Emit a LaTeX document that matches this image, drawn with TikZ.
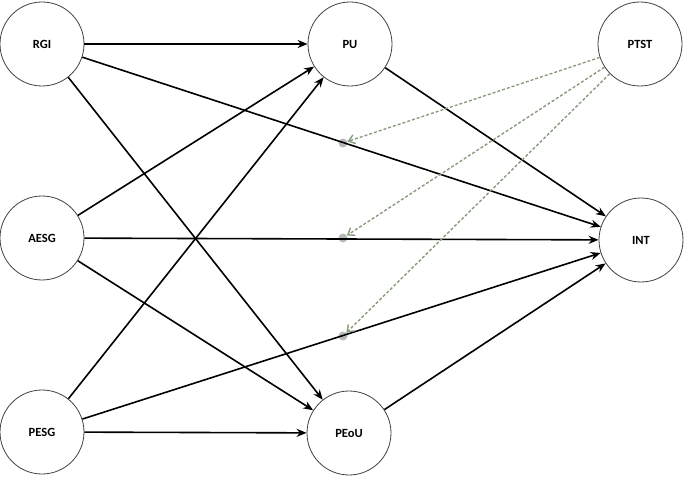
\documentclass[tikz,border=0pt]{standalone}
\usepackage{fontspec}
\setmainfont{Carlito}
\usetikzlibrary{arrows.meta}
\definecolor{dashcol}{RGB}{135,155,125}
\begin{document}
\begin{tikzpicture}[x=1pt,y=-1pt,
  n/.style={circle,draw=black!75,line width=0.8pt,minimum size=84pt,inner sep=0pt,font=\bfseries\fontsize{12.5}{14}\selectfont},
  a/.style={-{Stealth[length=10pt,width=8pt]},line width=1.6pt},
  d/.style={draw=dashcol,densely dashed,line width=1.4pt,-{Straight Barb[length=6pt,width=9pt]}},
  dot/.style={circle,fill=gray!55,minimum size=9pt,inner sep=0pt}]
\useasboundingbox (0,0) rectangle (685,478);
\node[n] (RGI) at (42,44) {RGI};
\node[n] (PU) at (350,44) {PU};
\node[n] (PTST) at (640,44) {PTST};
\node[n] (AESG) at (42,238) {AESG};
\node[n] (INT) at (641,240) {INT};
\node[n] (PESG) at (42,432) {PESG};
\node[n] (PEoU) at (349,433) {PEoU};
\node[dot] (d1) at (343,143) {};
\node[dot] (d2) at (343,238) {};
\node[dot] (d3) at (343,336) {};
\draw[a] (RGI) -- (PU);
\draw[a] (RGI) -- (INT);
\draw[a] (RGI) -- (PEoU);
\draw[a] (AESG) -- (PU);
\draw[a] (AESG) -- (INT);
\draw[a] (AESG) -- (PEoU);
\draw[a] (PESG) -- (PU);
\draw[a] (PESG) -- (INT);
\draw[a] (PESG) -- (PEoU);
\draw[a] (PU) -- (INT);
\draw[a] (PEoU) -- (INT);
\draw[d] (PTST) -- (d1);
\draw[d] (PTST) -- (d2);
\draw[d] (PTST) -- (d3);
\end{tikzpicture}
\end{document}
